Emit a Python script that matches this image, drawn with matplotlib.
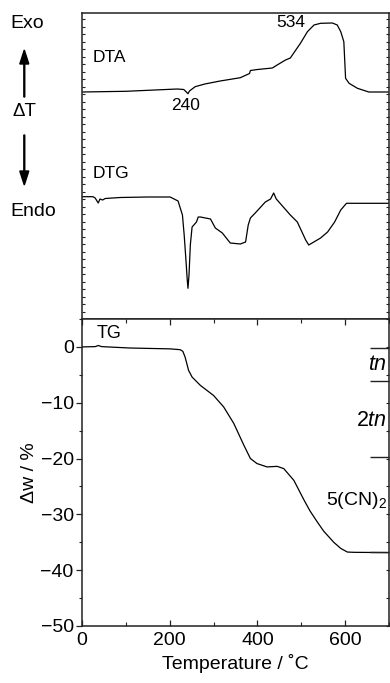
import matplotlib
matplotlib.use("Agg")
import matplotlib.pyplot as plt
from matplotlib.ticker import MultipleLocator, NullFormatter

plt.rcParams['font.family'] = ['Liberation Sans', 'DejaVu Sans']
plt.rcParams['mathtext.fontset'] = 'custom'
plt.rcParams['mathtext.rm'] = 'Liberation Sans'
plt.rcParams['mathtext.it'] = 'Liberation Sans:italic'

# ---- data ----
dta_T = [0, 100, 217, 232, 238, 241.6, 245, 258, 280, 315, 361, 382, 384, 400,
         434, 445, 464, 475, 498, 514, 529, 544, 571, 582, 590, 597, 601, 609,
         628, 654, 700]
dta_v = [22.7, 22.77, 23.0, 22.95, 22.7, 22.53, 22.8, 23.23, 23.5, 23.8, 24.13,
         24.55, 24.85, 24.95, 25.1, 25.4, 25.9, 26.1, 27.57, 28.73, 29.4, 29.57,
         29.6, 29.4, 28.73, 27.73, 24.07, 23.57, 23.07, 22.7, 22.7]

dtg_T = [0, 25, 30, 37, 41, 47, 53, 87, 150, 201, 219, 229, 233, 237, 240, 241.6,
         244, 247, 251, 261, 265, 270, 293, 304, 320, 338, 361, 373, 379, 384,
         395, 418, 430, 437, 443, 475, 491, 510, 517, 544, 560, 576, 590, 603, 700]
dtg_v = [12.23, 12.23, 12.1, 11.6, 12.0, 11.9, 12.05, 12.15, 12.2, 12.2, 11.8,
         10.4, 8.4, 5.9, 3.9, 3.07, 4.4, 7.4, 9.2, 9.7, 10.2, 10.2, 10.0, 9.1,
         8.6, 7.6, 7.5, 7.7, 9.4, 10.1, 10.6, 11.7, 12.0, 12.6, 12.0, 10.4, 9.7,
         7.9, 7.4, 8.1, 8.7, 9.7, 10.9, 11.57, 11.57]

tg_T = [0, 30, 37, 45, 110, 201, 224, 230, 235, 243, 251, 270, 300, 323, 346,
        369, 384, 399, 422, 445, 460, 483, 506, 520, 536, 551, 574, 590, 605,
        620, 700]
tg_w = [0, 0.05, 0.25, 0.05, -0.2, -0.35, -0.5, -0.8, -1.8, -4.2, -5.4, -6.9,
        -8.7, -10.75, -13.7, -17.6, -20.0, -20.9, -21.5, -21.4, -21.8, -23.9,
        -27.4, -29.4, -31.3, -33.0, -35.0, -36.1, -36.75, -36.8, -36.85]

step_levels = [-0.2, -6.1, -19.7, -36.8]
step_labels = [r'$\mathit{tn}$', r'2$\mathit{tn}$', r'5(CN)$_2$']
step_label_y = [-3.2, -13.1, -27.5]
step_label_size = [15.5, 15.5, 14]

x_ticks = [0, 200, 400, 600]
y_ticks = [0, -10, -20, -30, -40, -50]

# ---- figure ----
W, H = 390, 683
fig = plt.figure(figsize=(W / 100, H / 100), dpi=100)
L, R = 82 / W, 389 / W
ax1 = fig.add_axes([L, 1 - 319 / H, R - L, (319 - 13) / H])
ax2 = fig.add_axes([L, 1 - 626 / H, R - L, (626 - 319) / H])

spine_c = '#222222'
for ax in (ax1, ax2):
    for s in ax.spines.values():
        s.set_color(spine_c)
        s.set_linewidth(1.1)

# top panel
ax1.plot(dta_T, dta_v, color='black', lw=0.9)
ax1.plot(dtg_T, dtg_v, color='black', lw=0.9)
ax1.set_xlim(0, 700)
ax1.set_ylim(0, 30.6)
ax1.set_xticks([])
ax1.yaxis.set_major_locator(MultipleLocator(0.75))
ax1.yaxis.set_major_formatter(NullFormatter())
ax1.tick_params(axis='y', direction='in', length=2.5, width=0.8, left=True,
                right=True, color=spine_c)
ax1.text(24.5, 26.2, 'DTA', fontsize=12.5, va='center', ha='left')
ax1.text(24.5, 14.6, 'DTG', fontsize=12.5, va='center', ha='left')
ax1.text(476, 29.65, '534', fontsize=12.5, va='center', ha='center')
ax1.text(236.5, 21.4, '240', fontsize=12.5, va='center', ha='center')

# bottom panel
ax2.plot(tg_T, tg_w, color='black', lw=0.9)
ax2.set_xlim(0, 700)
ax2.set_ylim(-50, 5)
ax2.set_xticks(x_ticks)
ax2.set_yticks(y_ticks)
ax2.xaxis.set_minor_locator(MultipleLocator(100))
ax2.yaxis.set_minor_locator(MultipleLocator(5))
ax2.tick_params(axis='x', which='major', direction='in', length=4, width=0.9,
                top=True, labelsize=14, color=spine_c, pad=4)
ax2.tick_params(axis='x', which='minor', direction='in', length=3, width=0.8,
                top=True, color=spine_c)
ax2.tick_params(axis='y', which='major', direction='out', length=4, width=0.9,
                labelsize=14, color=spine_c, pad=2)
ax2.tick_params(axis='y', which='minor', direction='out', length=2.5, width=0.8,
                color=spine_c)
ax2.set_xlabel('Temperature / ˚C', fontsize=14, labelpad=4)
ax2.set_ylabel('Δw / %', fontsize=14, labelpad=2)
ax2.text(33.6, 2.45, 'TG', fontsize=13, va='center', ha='left')

axr = ax2.twinx()
axr.set_ylim(-50, 5)
axr.set_yticks(step_levels)
axr.yaxis.set_major_formatter(NullFormatter())
axr.yaxis.set_minor_locator(MultipleLocator(5))
axr.tick_params(axis='y', which='major', direction='in', length=14, width=1.0,
                color=spine_c)
axr.tick_params(axis='y', which='minor', direction='in', length=2.5, width=0.8,
                color=spine_c)
for s in axr.spines.values():
    s.set_visible(False)
for lab, yv, fs in zip(step_labels, step_label_y, step_label_size):
    ax2.text(695, yv, lab, fontsize=fs, ha='right', va='center')

# left side labels
def fx(px):
    return px / W

def fy(py):
    return 1 - py / H

fig.text(fx(10), fy(23), 'Exo', fontsize=14, ha='left', va='center')
fig.text(fx(10), fy(212), 'Endo', fontsize=14, ha='left', va='center')
fig.text(fx(24), fy(112), 'ΔT', fontsize=13.5, ha='center', va='center')
fig.patches.append(matplotlib.patches.FancyArrow(
    fx(24.3), fy(97), 0, (97 - 50) / H, width=0.9 / W, head_width=9 / W,
    head_length=14 / H, length_includes_head=True, color='black',
    transform=fig.transFigure, figure=fig))
fig.patches.append(matplotlib.patches.FancyArrow(
    fx(24.3), fy(135), 0, -(185 - 135) / H, width=0.9 / W, head_width=9 / W,
    head_length=14 / H, length_includes_head=True, color='black',
    transform=fig.transFigure, figure=fig))

fig.savefig('out.png', dpi=100)
